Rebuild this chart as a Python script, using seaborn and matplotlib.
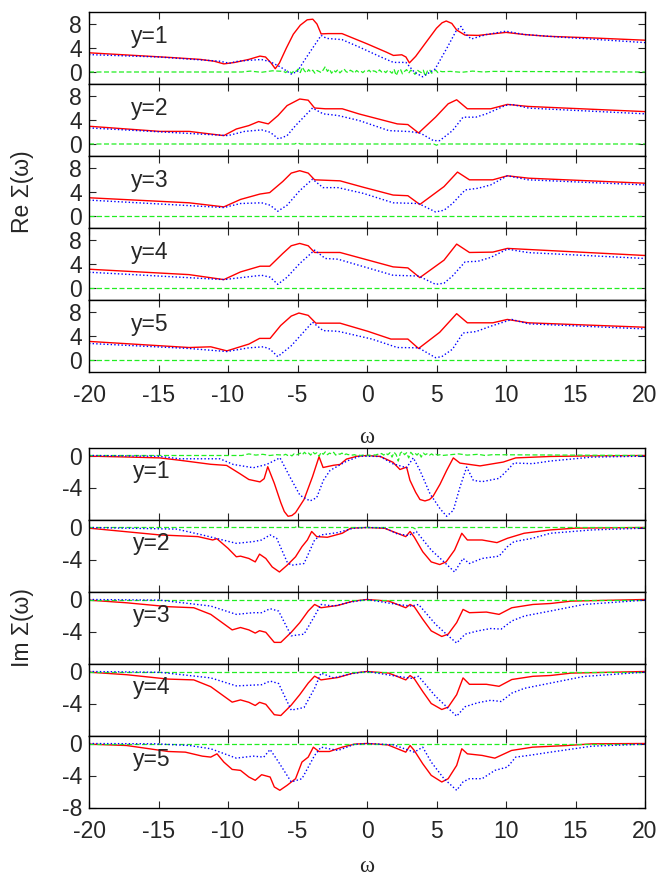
import numpy as np
import pandas as pd
import matplotlib
matplotlib.use("Agg")
import matplotlib.pyplot as plt
import seaborn as sns

# ---------------- Re Sigma(omega) ----------------
re1_red_w = [-20, -17, -14, -12, -11, -10.3, -9.5, -8.5, -7.7, -7.3, -6.9, -6.6, -6.3, -5.8, -5.3, -4.8, -4.3, -3.9, -3.6, -3.3, -2.8, -1.8, 0, 1.4, 1.9, 2.5, 2.8, 3.05, 3.5, 4.2, 5.0, 5.4, 5.7, 6.1, 6.45, 7.05, 8.0, 9.0, 10.0, 11.3, 13, 16, 20]
re1_red = [3.2, 2.8, 2.4, 2.1, 1.8, 1.35, 1.6, 2.1, 2.65, 2.5, 1.5, 0.55, 1.5, 4.0, 6.3, 7.8, 8.7, 8.8, 8.0, 6.35, 6.4, 6.4, 4.7, 3.3, 2.76, 2.87, 2.5, 1.52, 2.6, 4.8, 7.3, 8.2, 8.5, 8.1, 7.0, 6.15, 6.1, 6.35, 6.6, 6.25, 5.95, 5.7, 5.3]
re1_blue_w = [-20, -15, -10.6, -9.9, -9.4, -8.5, -7.6, -7.0, -6.2, -5.45, -5.0, -4.6, -4.2, -3.3, -2.9, -1.8, -0.6, 1.0, 1.9, 2.8, 3.4, 4.0, 4.9, 5.8, 6.4, 6.76, 7.06, 7.5, 8.6, 10.0, 11.3, 14, 20]
re1_blue = [2.9, 2.5, 1.8, 1.46, 1.75, 1.95, 2.08, 1.75, 0.8, -0.34, 0.1, 1.6, 3.0, 6.1, 5.6, 5.4, 4.2, 2.5, 1.6, 1.6, 0.0, -0.8, 0.5, 4.2, 6.8, 7.6, 6.4, 5.5, 6.25, 6.8, 6.25, 5.8, 4.9]
# fluctuating green trace, sampled every 0.15 between -6 and 5.4
re1_green_w = [-20, -9.0, -8.4, -7.6, -6.8] + list(np.round(np.arange(-6.0, 5.5, 0.15), 2)) + [6.0, 6.8, 7.6, 8.4, 9.0, 20]
re1_green = [0, 0, 0.15, -0.05, 0.2,
             0.1, -0.1, 0.2, 0.05, -0.2, 0.3, 0.1, 0.5, -0.1, 0.8,
             0.2, -0.15, 0.4, 0.0, 0.3, -0.2, 0.25, 0.1, -0.1, 0.35,
             0.9, 0.1, 0.5, -0.2, 0.3, 0.0, 0.4, -0.15, 0.2, 0.5,
             0.05, -0.1, 0.3, 0.1, -0.2, 0.25, 0.0, 0.15, -0.1, 0.2,
             0.05, 0.3, -0.1, 0.2, 0.1, -0.15, 0.35, 0.0, 0.2, -0.1,
             0.3, 0.1, -0.2, 0.45, -0.6, 0.2, 0.5, -0.3, 0.1, 0.4,
             -0.2, 0.3, 0.05, -0.4, 0.35, 0.1, -0.1, 0.3, -0.7, 0.2,
             0.4, -0.2, 0.1, 0.3, -0.1, 0.15, 0.05,
             0.1, -0.05, 0.15, 0.0, 0.1, 0]

re2_red_w = [-20, -14.9, -12.8, -10.3, -9.4, -8.5, -7.8, -7.1, -6.4, -5.75, -4.84, -4.23, -3.77, -3.0, -1.78, -0.56, 2.18, 2.94, 3.71, 4.93, 5.84, 6.45, 7.22, 8.9, 10.1, 11.6, 20]
re2_red = [2.96, 2.1, 2.1, 1.4, 2.5, 3.07, 3.74, 3.35, 4.75, 6.4, 7.5, 7.3, 6.0, 5.87, 5.87, 5.0, 3.35, 3.24, 1.84, 4.47, 6.7, 7.37, 5.87, 5.87, 6.6, 6.26, 5.4]
re2_blue_w = [-20, -10.0, -8.8, -7.58, -6.97, -6.36, -5.75, -5.14, -3.92, -3.16, -2.09, -0.56, 1.57, 3.1, 3.86, 4.78, 5.23, 6.15, 6.91, 7.83, 8.59, 9.96, 10.42, 11.64, 20]
re2_blue = [2.68, 1.4, 2.1, 2.35, 1.96, 0.84, 1.4, 3.07, 6.0, 5.03, 4.75, 3.91, 2.23, 2.07, 1.79, 0.56, 0.56, 2.23, 4.47, 4.47, 5.03, 6.42, 6.6, 5.98, 5.03]
re2_green_w = [-20, -5.2, -5.0, -4.8, 4.8, 5.0, 5.2, 20]
re2_green = [0, 0, 0.2, 0, 0, -0.2, 0, 0]

re3_red_w = [-20, -12.8, -10.3, -9.1, -7.7, -7.0, -6.06, -5.45, -4.84, -4.23, -3.77, -1.94, -0.26, 1.88, 2.94, 3.8, 5.54, 6.51, 7.37, 9.05, 10.1, 11.64, 20]
re3_red = [3.04, 2.2, 1.52, 2.76, 3.66, 3.9, 5.75, 7.15, 7.55, 7.15, 6.03, 5.86, 4.79, 3.49, 3.38, 1.92, 4.9, 7.32, 6.03, 6.03, 6.7, 6.3, 5.46]
re3_blue_w = [-20, -10.3, -9.1, -7.58, -6.97, -6.42, -5.75, -4.84, -3.92, -3.16, -2.09, -0.26, 1.88, 3.71, 4.93, 5.54, 6.15, 7.06, 7.98, 8.9, 10.1, 11.6, 20]
re3_blue = [2.65, 1.41, 2.08, 2.2, 1.8, 0.79, 1.8, 4.22, 6.14, 4.73, 4.73, 3.77, 2.2, 2.08, 0.68, 0.96, 2.08, 4.34, 4.62, 5.18, 6.7, 6.03, 5.18]

re4_red_w = [-20, -12.8, -10.3, -9.1, -7.7, -7.0, -6.06, -5.45, -4.84, -4.23, -3.77, -1.94, 1.88, 2.94, 3.8, 5.54, 6.45, 7.37, 9.05, 10.1, 20]
re4_red = [3.13, 2.23, 1.4, 2.68, 3.63, 3.63, 5.75, 7.04, 7.43, 7.04, 5.92, 5.92, 3.52, 3.35, 1.73, 4.64, 7.32, 5.92, 5.98, 6.6, 5.42]
re4_blue_w = [-20, -10.3, -7.58, -6.97, -6.42, -5.75, -4.84, -3.77, -3.0, -2.09, 1.88, 3.71, 4.93, 5.54, 6.15, 7.06, 7.98, 8.9, 10.1, 11.6, 20]
re4_blue = [2.63, 1.4, 2.12, 1.8, 0.61, 1.8, 4.08, 6.31, 4.92, 4.8, 2.12, 2.0, 0.61, 0.8, 2.0, 4.36, 4.45, 5.1, 6.48, 5.9, 4.92]

re5_red_w = [-20, -12.8, -11.24, -10.08, -8.5, -7.73, -6.97, -6.21, -5.45, -4.9, -4.23, -3.68, -1.94, 0.05, 1.72, 2.94, 3.71, 5.23, 6.45, 7.22, 9.05, 10.1, 11.6, 20]
re5_red = [3.1, 2.08, 2.2, 1.52, 2.65, 3.6, 3.6, 5.75, 7.32, 7.83, 7.44, 6.14, 6.14, 4.79, 3.49, 3.49, 1.92, 4.62, 7.72, 6.2, 6.2, 6.76, 6.2, 5.46]
re5_blue_w = [-20, -12.8, -10.08, -8.5, -7.43, -6.97, -6.42, -5.45, -3.92, -3.16, -2.09, 0.35, 2.18, 3.71, 4.93, 5.38, 6.15, 6.91, 7.83, 8.9, 10.42, 11.6, 20]
re5_blue = [2.76, 1.92, 1.41, 2.03, 2.2, 1.8, 0.56, 2.37, 6.3, 4.9, 4.79, 3.49, 2.08, 2.03, 0.39, 0.56, 1.8, 4.5, 4.73, 5.63, 6.76, 6.03, 5.18]

# ---------------- Im Sigma(omega) ----------------
im1_red_w = [-20, -17, -14.9, -13.45, -11.24, -10.1, -9.14, -8.5, -7.7, -7.4, -7.14, -6.67, -6.2, -5.95, -5.68, -5.4, -5.14, -4.53, -3.92, -3.45, -3.16, -2.4, -1.94, -1.48, -0.74, 0, 0.96, 1.87, 2.37, 2.85, 3.09, 3.5, 3.81, 4.17, 4.5, 4.75, 5.25, 5.73, 6.21, 6.69, 8.13, 9.8, 10.7, 13.2, 16, 20]
im1_red = [-0.08, -0.2, -0.3, -0.6, -1.1, -1.24, -2.28, -3.0, -3.3, -2.9, -1.4, -3.47, -5.9, -7.0, -7.6, -7.5, -7.14, -5.5, -2.65, -0.15, -1.5, -1.22, -1.12, -0.45, -0.1, 0.0, -0.12, -0.85, -1.75, -1.45, -3.1, -4.6, -5.5, -5.68, -5.5, -5.1, -3.6, -1.87, -0.3, -0.95, -1.3, -0.82, -0.3, -0.12, -0.05, 0.0]
im1_blue_w = [-20, -15, -13.45, -10.58, -9.62, -8.18, -7.22, -6.26, -5.54, -4.82, -4.1, -3.62, -3.14, -2.66, -1.46, -0.5, 0.94, 1.87, 2.85, 3.33, 3.81, 4.53, 5.25, 5.73, 6.21, 6.69, 7.17, 7.65, 8.28, 9.5, 10.1, 10.57, 11.9, 13.2, 16.2, 20]
im1_blue = [0, -0.1, -0.41, -0.41, -1.12, -1.53, -1.12, -0.29, -2.7, -4.98, -5.68, -5.27, -3.11, -1.87, -0.7, -0.08, -0.12, -1.04, -1.53, -0.29, -1.87, -4.77, -6.64, -7.6, -6.85, -3.94, -1.45, -3.11, -3.27, -2.86, -1.84, -0.94, -1.02, -0.69, -0.2, -0.08]
im1_green_w = [-20, -9.0, -8.5, -8.0, -7.5, -7.0, -6.5] + list(np.round(np.arange(-6.0, 5.5, 0.15), 2)) + [6.0, 6.6, 7.2, 8.0, 8.5, 9.0, 20]
im1_green = [0, 0, 0.2, 0.05, 0.15, 0, 0.1,
             0.05, 0.15, 0.0, 0.1, -0.05, 0.2, 0.05, 0.15, 0.3, 0.1,
             0.4, 0.15, 0.3, 0.05, 0.45, 0.2, 0.35, -0.1, 0.4, 0.15,
             0.45, 0.1, 0.3, 0.2, 0.4, 0.05, 0.25, 0.15, 0.3, 0.05,
             0.2, 0.1, 0.15, 0.05, 0.1, 0.0, 0.05, 0.0, 0.05, 0.0,
             0.0, 0.05, 0.0, 0.1, 0.05, 0.15, 0.1, 0.25, 0.05, 0.3,
             0.1, 0.35, -0.2, 0.4, 0.1, -0.7, 0.3, 0.5, 0.1, 0.35,
             -0.3, 0.4, 0.1, 0.3, 0.05, 0.35, -0.2, 0.3, 0.1, 0.25,
             0.05, 0.2, 0.0, 0.15, 0.05, 0.1, 0.0,
             0.1, 0.2, 0.05, 0.15, 0, 0.1, 0]

im2_red_w = [-20, -14.9, -12.16, -11.1, -10.8, -10.0, -9.4, -9.1, -8.5, -8.04, -7.73, -7.28, -6.82, -6.3, -5.75, -5.14, -4.68, -4.29, -3.98, -3.62, -2.85, -1.78, -1.17, 0, 1.27, 2.18, 2.79, 3.1, 3.4, 4.01, 4.62, 5.23, 5.69, 6.3, 6.82, 7.22, 8.28, 9.35, 10.1, 11.3, 13.2, 15.0, 20]
im2_red = [-0.08, -0.93, -1.14, -1.56, -1.4, -2.6, -3.66, -3.58, -3.87, -4.3, -3.33, -3.87, -4.93, -5.56, -4.72, -3.66, -2.4, -1.56, -0.5, -1.14, -1.22, -0.72, -0.08, 0, -0.1, -0.72, -1.14, -0.5, -1.2, -3.03, -4.3, -4.63, -4.3, -2.82, -0.72, -1.56, -1.56, -1.89, -1.35, -0.72, -0.3, -0.08, 0]
im2_blue_w = [-20, -13.7, -11.85, -9.4, -8.19, -7.58, -6.97, -6.5, -5.75, -5.45, -4.53, -3.77, -3.31, -2.09, -1.0, 0, 1.27, 2.18, 3.0, 3.55, 4.62, 5.54, 6.3, 6.91, 7.37, 8.28, 9.5, 10.1, 10.57, 11.9, 13.2, 16.2, 20]
im2_blue = [0, -0.2, -0.93, -1.98, -1.77, -1.56, -0.93, -1.35, -4.3, -4.72, -4.5, -1.56, -0.93, -0.63, -0.1, 0, -0.05, -0.8, -1.0, -0.5, -2.82, -4.3, -5.56, -3.87, -4.5, -3.87, -3.58, -2.4, -1.77, -1.35, -0.72, -0.3, -0.08]
im2_green_w = [-20, -5.2, -5.0, -4.8, 3.3, 3.5, 3.7, 20]
im2_green = [0, 0, 0.15, 0, 0, -0.2, 0, 0]

im3_red_w = [-20, -17.3, -14.3, -12.46, -11.24, -9.7, -9.1, -8.5, -8.04, -7.73, -7.28, -6.67, -6.2, -5.45, -4.84, -4.23, -3.77, -3.31, -2.09, -1.0, 0, 1.57, 2.79, 3.1, 3.4, 4.01, 4.62, 5.38, 5.84, 6.45, 6.91, 7.37, 8.59, 9.5, 10.42, 11.94, 13.2, 14.7, 20]
im3_red = [-0.08, -0.41, -0.9, -1.03, -1.86, -3.8, -3.5, -3.8, -4.2, -3.9, -4.1, -5.36, -5.36, -4.1, -2.9, -1.44, -0.62, -1.03, -0.74, -0.2, 0, -0.2, -1.03, -0.62, -0.9, -2.47, -3.92, -4.62, -4.33, -2.89, -1.24, -1.65, -1.57, -1.86, -1.03, -0.62, -0.5, -0.2, 0]
im3_blue_w = [-20, -14.9, -11.24, -9.4, -8.19, -7.58, -6.97, -6.36, -5.45, -4.53, -3.77, -3.31, -2.4, -1.2, 0, 2.18, 3.2, 3.71, 4.93, 5.84, 6.45, 7.06, 7.98, 8.9, 9.65, 10.42, 11.33, 13.2, 15.6, 20]
im3_blue = [0, -0.08, -0.82, -1.86, -1.65, -1.65, -1.15, -1.45, -4.54, -4.33, -2.06, -0.62, -0.82, -0.33, 0, -0.62, -0.82, -0.62, -3.09, -4.54, -5.44, -4.33, -3.92, -3.63, -3.7, -2.68, -2.06, -1.44, -0.62, -0.08]

im4_red_w = [-20, -17.3, -14.3, -12.46, -11.24, -9.7, -9.1, -8.5, -8.04, -7.73, -7.28, -6.67, -6.2, -5.45, -4.84, -4.23, -3.77, -3.31, -2.09, -1.0, 0, 1.57, 2.79, 3.1, 3.4, 4.01, 4.62, 5.38, 5.84, 6.45, 6.91, 7.37, 8.59, 9.5, 10.42, 11.94, 13.2, 14.7, 20]
im4_red = [-0.08, -0.4, -0.95, -1.05, -1.9, -3.83, -3.55, -3.85, -4.25, -3.85, -4.1, -5.4, -5.5, -4.2, -2.9, -1.45, -0.58, -1.05, -0.75, -0.2, 0, -0.2, -1.05, -0.5, -0.9, -2.5, -4.0, -4.75, -4.45, -2.9, -0.8, -1.6, -1.6, -1.85, -1.0, -0.6, -0.5, -0.2, 0]
im4_blue_w = [-20, -14.9, -11.24, -9.4, -8.19, -7.58, -6.97, -6.36, -5.45, -4.53, -3.77, -3.31, -2.4, -1.2, 0, 2.18, 3.2, 3.71, 4.93, 5.84, 6.45, 7.06, 7.98, 8.9, 9.65, 10.42, 11.33, 13.2, 15.6, 20]
im4_blue = [0, -0.1, -0.8, -1.8, -1.7, -1.65, -1.2, -1.5, -4.83, -4.5, -2.1, -0.2, -0.8, -0.3, 0, -0.6, -0.85, -0.6, -3.1, -4.6, -5.58, -4.4, -3.9, -3.6, -3.75, -2.7, -2.1, -1.45, -0.62, -0.08]

im5_red_w = [-20, -17.3, -14.3, -13.07, -11.85, -11.24, -10.79, -10.3, -9.7, -9.1, -8.5, -8.04, -7.58, -6.97, -6.67, -6.27, -5.75, -5.14, -4.68, -4.23, -3.86, -3.46, -2.7, -1.78, -0.9, 0, 1.5, 2.79, 3.1, 3.4, 4.01, 4.62, 5.38, 5.84, 6.45, 6.82, 7.22, 8.28, 9.2, 10.4, 11.9, 14.4, 16.2, 20]
im5_red = [-0.08, -0.25, -1.0, -1.08, -1.58, -1.7, -1.29, -2.32, -3.24, -3.36, -4.19, -4.6, -3.9, -4.19, -5.43, -5.85, -5.23, -4.4, -2.32, -1.7, -0.46, -1.0, -1.0, -0.46, -0.08, 0, -0.17, -1.08, -0.25, -0.87, -2.53, -3.98, -4.81, -4.4, -2.74, -0.66, -1.29, -1.49, -1.83, -0.87, -0.46, -0.25, -0.04, 0]
im5_blue_w = [-20, -15.2, -12.77, -11.24, -9.4, -8.19, -7.43, -6.97, -6.36, -5.45, -4.68, -3.77, -3.31, -2.09, -0.9, 0, 1.9, 3.4, 4.01, 4.62, 5.54, 6.45, 6.91, 7.37, 8.28, 9.2, 10.1, 10.7, 11.64, 13.2, 16.2, 20]
im5_blue = [0, -0.04, -0.25, -0.66, -1.83, -1.58, -1.7, -0.75, -2.32, -4.81, -4.4, -1.49, -0.46, -0.87, -0.1, 0, -0.17, -1.08, -0.46, -2.32, -4.4, -5.85, -4.8, -4.4, -4.4, -3.36, -2.95, -1.7, -1.49, -1.08, -0.33, -0.08]

flat_w = [-20, 20]
flat_v = [0, 0]

panel_labels = ["y=1", "y=2", "y=3", "y=4", "y=5"]
x_ticks = [-20, -15, -10, -5, 0, 5, 10, 15, 20]
re_ticks = [0, 4, 8]
im_ticks = [0, -4, -8]

re_series = [
    (re1_red_w, re1_red, re1_blue_w, re1_blue, re1_green_w, re1_green),
    (re2_red_w, re2_red, re2_blue_w, re2_blue, re2_green_w, re2_green),
    (re3_red_w, re3_red, re3_blue_w, re3_blue, flat_w, flat_v),
    (re4_red_w, re4_red, re4_blue_w, re4_blue, flat_w, flat_v),
    (re5_red_w, re5_red, re5_blue_w, re5_blue, flat_w, flat_v),
]
im_series = [
    (im1_red_w, im1_red, im1_blue_w, im1_blue, im1_green_w, im1_green),
    (im2_red_w, im2_red, im2_blue_w, im2_blue, im2_green_w, im2_green),
    (im3_red_w, im3_red, im3_blue_w, im3_blue, flat_w, flat_v),
    (im4_red_w, im4_red, im4_blue_w, im4_blue, flat_w, flat_v),
    (im5_red_w, im5_red, im5_blue_w, im5_blue, flat_w, flat_v),
]

sns.set_style("ticks")
plt.rcParams["font.family"] = ["Liberation Sans", "DejaVu Sans"]
plt.rcParams["axes.linewidth"] = 1.0
plt.rcParams["axes.unicode_minus"] = False

W, H = 662, 877
fig = plt.figure(figsize=(W / 100, H / 100), dpi=100)

LEFT, RIGHT = 89, 645
PANEL_H = 72
RE_TOP = 12
IM_TOP = 447.5
FS = 16.5

RED = "#ff0000"
BLUE = "#0000ff"
GREEN = "#22ee22"


def make_axes(top_px):
    return fig.add_axes([LEFT / W, 1 - (top_px + PANEL_H) / H,
                         (RIGHT - LEFT) / W, PANEL_H / H])


def draw_panel(ax, series):
    rw, rv, bw, bv, gw, gv = series
    red = pd.DataFrame({"w": rw, "v": rv})
    blue = pd.DataFrame({"w": bw, "v": bv})
    green = pd.DataFrame({"w": gw, "v": gv})
    sns.lineplot(data=red, x="w", y="v", ax=ax, color=RED, lw=1.0,
                 estimator=None, sort=False)
    sns.lineplot(data=green, x="w", y="v", ax=ax, color=GREEN, lw=0.9,
                 linestyle=(0, (4, 2)), estimator=None, sort=False)
    sns.lineplot(data=blue, x="w", y="v", ax=ax, color=BLUE, lw=1.0,
                 linestyle=(0, (1, 1.6)), estimator=None, sort=False)
    ax.set_xlim(-20, 20)
    ax.set_xticks(x_ticks)
    ax.tick_params(direction="in", length=5, width=0.8, top=True, right=True,
                   labelsize=FS)
    ax.tick_params(axis="y", pad=5)
    ax.tick_params(axis="x", pad=9)
    ax.set_xlabel("")
    ax.set_ylabel("")
    for s in ax.spines.values():
        s.set_visible(True)
        s.set_color("black")
        s.set_linewidth(1.0)


# Real part
for k, series in enumerate(re_series):
    ax = make_axes(RE_TOP + k * PANEL_H)
    draw_panel(ax, series)
    ax.set_ylim(-2, 10)
    ax.set_yticks(re_ticks)
    ax.text(-15.6, 5.9, panel_labels[k], ha="center", va="center", fontsize=FS)
    if k < 4:
        ax.set_xticklabels([])
    else:
        ax.set_xticklabels([str(t) for t in x_ticks])

# Imaginary part
for k, series in enumerate(im_series):
    ax = make_axes(IM_TOP + k * PANEL_H)
    draw_panel(ax, series)
    ax.set_ylim(-8, 1)
    if k < 4:
        ax.set_yticks(im_ticks[:2])
        ax.set_xticklabels([])
    else:
        ax.set_yticks(im_ticks)
        ax.set_xticklabels([str(t) for t in x_ticks])
    ax.text(-15.5, -2.0, panel_labels[k], ha="center", va="center", fontsize=FS)

# Axis titles
fig.text(367 / W, 1 - 437 / H, "ω", ha="center", va="center",
         fontsize=FS, family=["Liberation Serif", "DejaVu Serif"])
fig.text(367 / W, 1 - 866 / H, "ω", ha="center", va="center",
         fontsize=FS, family=["Liberation Serif", "DejaVu Serif"])
fig.text(22 / W, 1 - 192 / H, "Re Σ(ω)", ha="center", va="center",
         rotation=90, fontsize=FS)
fig.text(22 / W, 1 - 627.5 / H, "Im Σ(ω)", ha="center", va="center",
         rotation=90, fontsize=FS)

fig.savefig("out.png", dpi=100)
